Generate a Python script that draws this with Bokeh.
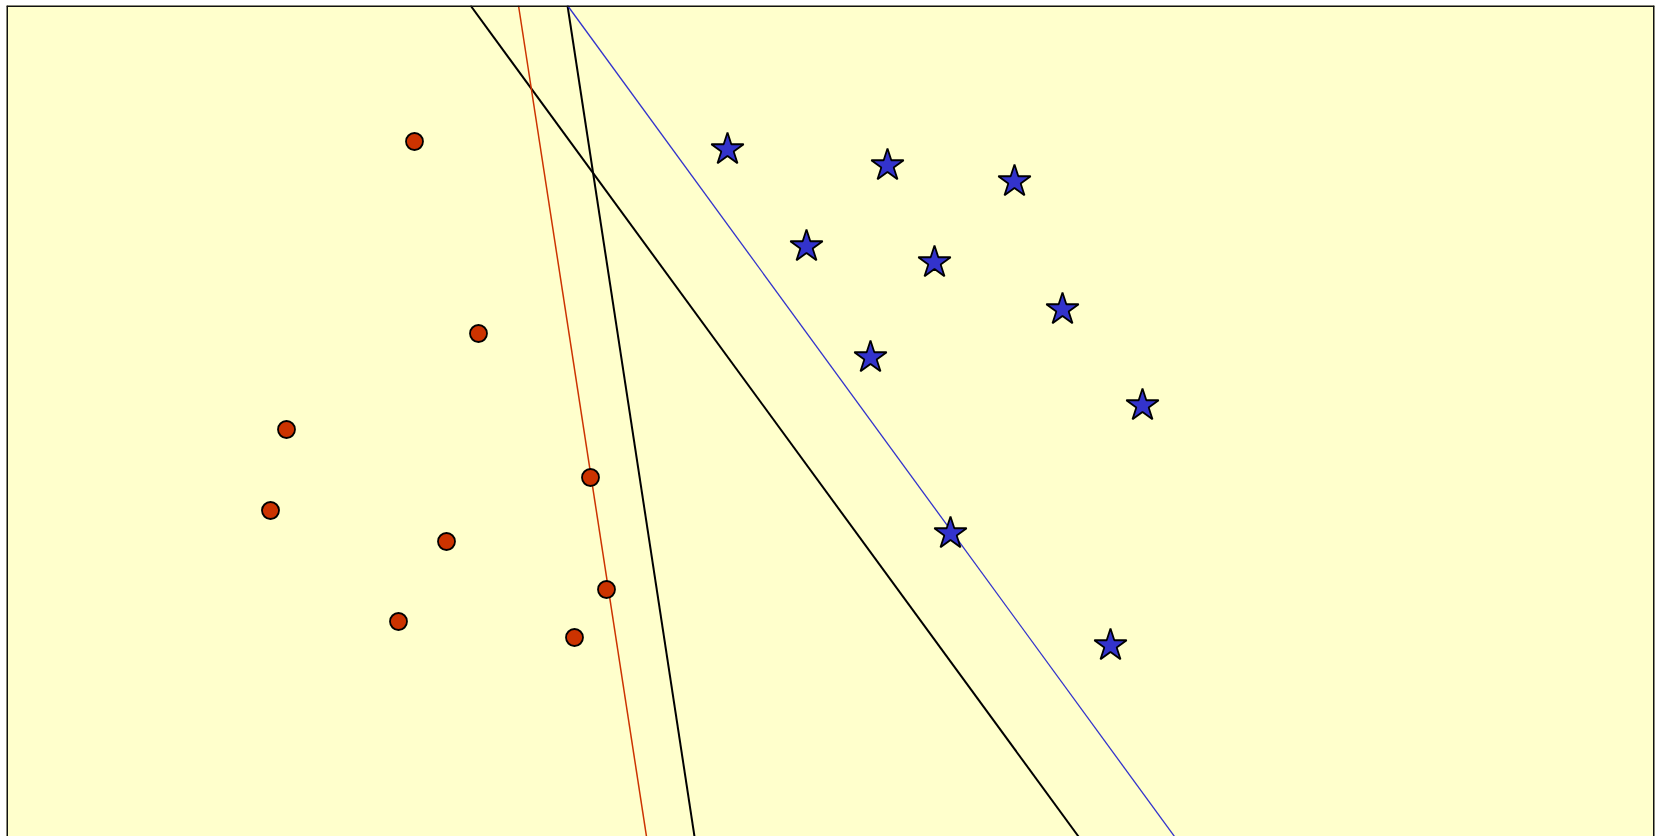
from bokeh.plotting import figure
from bokeh.models import Range1d, Span
from bokeh.embed import file_html
from bokeh.resources import INLINE

# Class A (red circles)
red_x = [4.08, 4.72, 2.80, 2.64, 4.40, 5.84, 6.00, 3.92, 5.68]
red_y = [6.95, 5.03, 4.07, 3.26, 2.95, 3.59, 2.47, 2.15, 1.99]

# Class B (blue stars)
blue_x = [7.21, 8.81, 10.08, 8.00, 9.28, 10.56, 8.64, 11.36, 9.44, 11.04]
blue_y = [6.87, 6.71, 6.55, 5.90, 5.74, 5.27, 4.79, 4.31, 3.03, 1.91]

# Separating lines (endpoints x0, y0, x1, y1)
line_names = ["black1", "red", "black2", "blue"]
line_x0 = [4.64, 5.12, 5.61, 5.61]
line_y0 = [8.31, 8.31, 8.31, 8.31]
line_x1 = [10.72, 6.40, 6.88, 11.68]
line_y1 = [0.00, 0.00, 0.00, 0.00]

line_colors = {"black1": "#000000", "red": "#CC3300", "black2": "#000000", "blue": "#3333CC"}
line_widths = {"black1": 2, "red": 1.5, "black2": 2, "blue": 1.3}

X0, X1, Y0, Y1 = 0.0, 16.48, 0.0, 8.31

p = figure(width=1661, height=836, output_backend="svg", toolbar_location=None,
           x_range=Range1d(X0, X1), y_range=Range1d(Y0, Y1),
           min_border_left=6, min_border_right=7, min_border_top=5, min_border_bottom=0,
           background_fill_color="#FFFFCC", border_fill_color="#FFFFFF")
p.xaxis.visible = False
p.yaxis.visible = False
p.grid.visible = False
p.outline_line_color = None

for i, n in enumerate(line_names):
    p.line([line_x0[i], line_x1[i]], [line_y0[i], line_y1[i]],
           line_color=line_colors[n], line_width=line_widths[n])

p.scatter(red_x, red_y, marker="circle", size=17, fill_color="#CC3300",
          line_color="#000000", line_width=1.8)
p.scatter(blue_x, blue_y, marker="star", size=34, fill_color="#3333CC",
          line_color="#000000", line_width=1.8)

# frame border on left, top, right (bottom is cut off in the original)
for loc, dim in [(X0, "height"), (X1, "height"), (Y1, "width")]:
    p.add_layout(Span(location=loc, dimension=dim, line_color="#111111", line_width=3))

open("out.html", "w").write(file_html(p, INLINE))
